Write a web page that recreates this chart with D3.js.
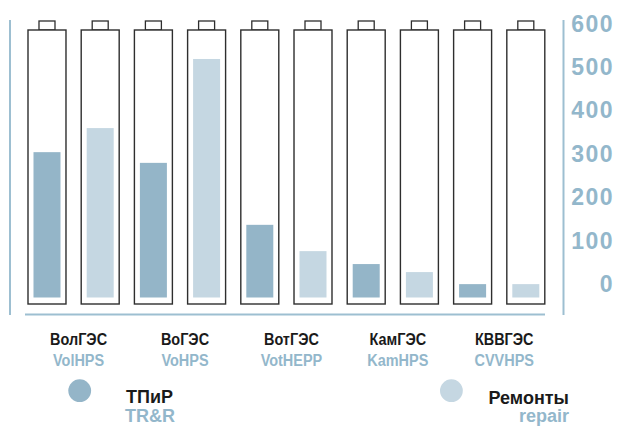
<!DOCTYPE html>
<html><head><meta charset="utf-8">
<script src="https://cdn.jsdelivr.net/npm/d3@7"></script>
<style>
html,body{margin:0;padding:0;background:#fff;}
svg{display:block;}
</style></head>
<body>
<svg id="chart" width="618" height="426"></svg>
<script>
// ---- data ----
const plantsRu = ["ВолГЭС", "ВоГЭС", "ВотГЭС", "КамГЭС", "КВВГЭС"];
const plantsEn = ["VolHPS", "VoHPS", "VotHEPP", "KamHPS", "CVVHPS"];
const trrValues = [326, 302, 163, 75, 30];      // ТПиР / TR&R
const repairValues = [380, 535, 104, 57, 30];   // Ремонты / repair
const yTicks = [0, 100, 200, 300, 400, 500, 600];
const seriesRu = ["ТПиР", "Ремонты"];
const seriesEn = ["TR&R", "repair"];

// ---- build ----
const svg = d3.select("#chart");
const darkC = "#94b5c8", lightC = "#c5d7e2", lineC = "#9dbfd1", textC = "#93b7cb";

const cells = [];
plantsRu.forEach((p, i) => {
  cells.push({key: p + "_t", plant: i, s: 0, v: trrValues[i]});
  cells.push({key: p + "_r", plant: i, s: 1, v: repairValues[i]});
});

const x = d3.scaleBand().domain(cells.map(d => d.key)).range([28, 544.8]).paddingInner(0.286).paddingOuter(0);
const y = d3.scaleLinear().domain([0, 600]).range([297.5, 30]);
const yLab = d3.scaleLinear().domain([0, 600]).range([292, 31.5]);
const color = d3.scaleOrdinal().domain([0, 1]).range([darkC, lightC]);

// frame lines
svg.append("line").attr("x1", 10).attr("x2", 10).attr("y1", 20).attr("y2", 315)
  .attr("stroke", lineC).attr("stroke-width", 2);
svg.append("line").attr("x1", 25).attr("x2", 545).attr("y1", 314.5).attr("y2", 314.5)
  .attr("stroke", lineC).attr("stroke-width", 2);
svg.append("line").attr("x1", 563.5).attr("x2", 563.5).attr("y1", 20).attr("y2", 315)
  .attr("stroke", lineC).attr("stroke-width", 2);

// batteries
const bw = x.bandwidth();
const g = svg.append("g").selectAll("g").data(cells).join("g");
g.append("rect").attr("x", d => x(d.key) + bw / 2 - 8).attr("y", 21).attr("width", 16).attr("height", 9)
  .attr("fill", "#fff").attr("stroke", "#2e2e2e").attr("stroke-width", 1.3);
g.append("rect").attr("x", d => x(d.key)).attr("y", 30).attr("width", bw).attr("height", 274)
  .attr("fill", "#fff").attr("stroke", "#2e2e2e").attr("stroke-width", 1.4);
g.append("rect").attr("x", d => x(d.key) + bw / 2 - 13.5).attr("width", 27)
  .attr("y", d => y(d.v)).attr("height", d => y(0) - y(d.v))
  .attr("fill", d => color(d.s));

// y axis labels
svg.append("g").selectAll("text").data(yTicks).join("text")
  .attr("x", 614).attr("y", d => yLab(d))
  .attr("text-anchor", "end")
  .attr("font-family", "'Liberation Sans', Arial, sans-serif").attr("font-weight", "bold")
  .attr("font-size", 23).attr("letter-spacing", 1.5)
  .attr("fill", textC).text(d => d);

// category labels (condensed look via horizontal scaling)
const pairCenter = i => (x(plantsRu[i] + "_t") + x(plantsRu[i] + "_r") + bw) / 2 + 5;
const cg = svg.append("g").selectAll("g").data(plantsRu).join("g");
cg.append("text").attr("transform", (d, i) => `translate(${pairCenter(i)},345) scale(0.85,1)`)
  .attr("text-anchor", "middle")
  .attr("font-family", "'Liberation Sans', Arial, sans-serif").attr("font-weight", "bold")
  .attr("font-size", 17).attr("fill", "#1a1a1a").text(d => d);
cg.append("text").attr("transform", (d, i) => `translate(${pairCenter(i)},365.5) scale(0.85,1)`)
  .attr("text-anchor", "middle")
  .attr("font-family", "'Liberation Sans', Arial, sans-serif").attr("font-weight", "bold")
  .attr("font-size", 17).attr("fill", textC).text((d, i) => plantsEn[i]);

// legend
const lg = svg.append("g");
lg.append("circle").attr("cx", 79.7).attr("cy", 390.7).attr("r", 11.4).attr("fill", color(0));
lg.append("text").attr("x", 126).attr("y", 403).attr("font-family", "'Liberation Sans', Arial, sans-serif")
  .attr("font-weight", "bold").attr("font-size", 18).attr("fill", "#1a1a1a").text(seriesRu[0]);
lg.append("text").attr("x", 125).attr("y", 422).attr("font-family", "'Liberation Sans', Arial, sans-serif")
  .attr("font-weight", "bold").attr("font-size", 18).attr("fill", textC).text(seriesEn[0]);
lg.append("circle").attr("cx", 451.4).attr("cy", 390.7).attr("r", 11.4).attr("fill", color(1));
lg.append("text").attr("x", 569).attr("y", 403.5).attr("text-anchor", "end").attr("font-family", "'Liberation Sans', Arial, sans-serif")
  .attr("font-weight", "bold").attr("font-size", 18).attr("fill", "#1a1a1a").text(seriesRu[1]);
lg.append("text").attr("x", 569).attr("y", 422).attr("text-anchor", "end").attr("font-family", "'Liberation Sans', Arial, sans-serif")
  .attr("font-weight", "bold").attr("font-size", 18).attr("fill", textC).text(seriesEn[1]);
</script>
</body></html>
